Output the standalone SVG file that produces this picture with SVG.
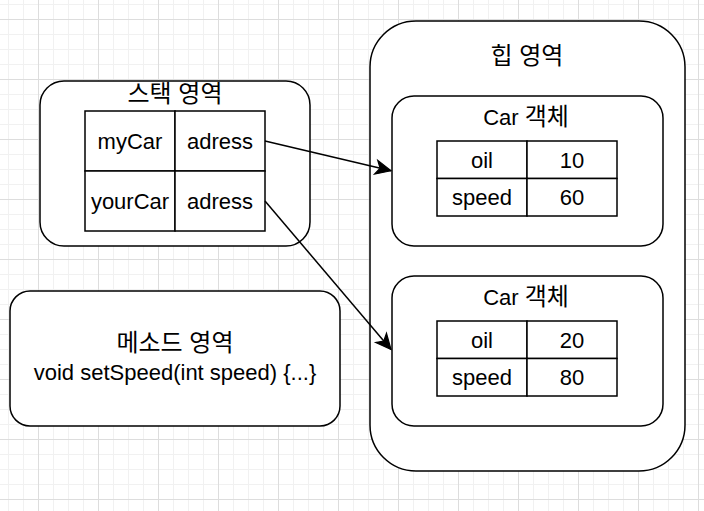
<svg xmlns="http://www.w3.org/2000/svg" width="704" height="511" viewBox="0 0 704 511">
<defs>
<pattern id="grid" patternUnits="userSpaceOnUse" x="38" y="19" width="60" height="60">
<path d="M15.5,0V60M30.5,0V60M45.5,0V60M0,15.5H60M0,30.5H60M0,45.5H60" stroke="#f1f1f1" stroke-width="1" fill="none"/>
<path d="M0.5,0V60M0,0.5H60" stroke="#dddddd" stroke-width="1" fill="none"/>
</pattern>
<marker id="arr" markerUnits="userSpaceOnUse" markerWidth="20" markerHeight="20" viewBox="-15 -8 17 16" refX="0" refY="0" orient="auto">
<path d="M0,0 L-13,-6 L-9.5,0 L-13,6 Z" fill="#000" stroke="#000" stroke-width="1"/>
</marker>
<style>
.box{fill:#fff;stroke:#000;stroke-width:1.5}
.cell{fill:#fff;stroke:#000;stroke-width:1.5}
.t{font-family:"Liberation Sans","Noto Sans CJK KR",Arial,sans-serif;font-size:22px;fill:#000;text-anchor:middle}
.k{font-size:24px}
.edge{fill:none;stroke:#000;stroke-width:1.5}
</style>
</defs>
<rect width="704" height="511" fill="#fff"/>
<rect width="704" height="511" fill="url(#grid)"/>

<g id="heap">
<rect class="box" x="370" y="21" width="315" height="450" rx="46" ry="46"/>
<text class="t k" x="527" y="64">힙 영역</text>
</g>

<g id="car1">
<rect class="box" x="392" y="96" width="271" height="150" rx="22" ry="22"/>
<text class="t" x="526" y="124.5">Car <tspan class="k">객체</tspan></text>
<rect class="cell" x="437" y="141" width="90" height="37.5"/>
<rect class="cell" x="527" y="141" width="90" height="37.5"/>
<rect class="cell" x="437" y="178.5" width="90" height="37.5"/>
<rect class="cell" x="527" y="178.5" width="90" height="37.5"/>
<text class="t" x="482" y="167.5">oil</text>
<text class="t" x="572" y="167.5">10</text>
<text class="t" x="482" y="205">speed</text>
<text class="t" x="572" y="205">60</text>
</g>

<g id="car2">
<rect class="box" x="392" y="276" width="271" height="150" rx="22" ry="22"/>
<text class="t" x="526" y="304.5">Car <tspan class="k">객체</tspan></text>
<rect class="cell" x="437" y="321" width="90" height="37.5"/>
<rect class="cell" x="527" y="321" width="90" height="37.5"/>
<rect class="cell" x="437" y="358.5" width="90" height="37.5"/>
<rect class="cell" x="527" y="358.5" width="90" height="37.5"/>
<text class="t" x="482" y="347.5">oil</text>
<text class="t" x="572" y="347.5">20</text>
<text class="t" x="482" y="385">speed</text>
<text class="t" x="572" y="385">80</text>
</g>

<g id="stack">
<rect class="box" x="40" y="81" width="270" height="165" rx="24" ry="24"/>
<text class="t k" x="175" y="102">스택 영역</text>
<rect class="cell" x="85" y="111" width="90" height="60"/>
<rect class="cell" x="175" y="111" width="90" height="60"/>
<rect class="cell" x="85" y="171" width="90" height="60"/>
<rect class="cell" x="175" y="171" width="90" height="60"/>
<text class="t" x="130" y="149">myCar</text>
<text class="t" x="220" y="149">adress</text>
<text class="t" x="130" y="209">yourCar</text>
<text class="t" x="220" y="209">adress</text>
</g>

<g id="method">
<rect class="box" x="10" y="291" width="330" height="135" rx="20" ry="20"/>
<text class="t k" x="175" y="351">메소드 영역</text>
<text class="t" x="175" y="380">void setSpeed(int speed) {...}</text>
</g>

<g id="connectors">
<path class="edge" d="M265,141 L391,170.8" marker-end="url(#arr)"/>
<path class="edge" d="M265,201 L391,349.5" marker-end="url(#arr)"/>
</g>
</svg>
